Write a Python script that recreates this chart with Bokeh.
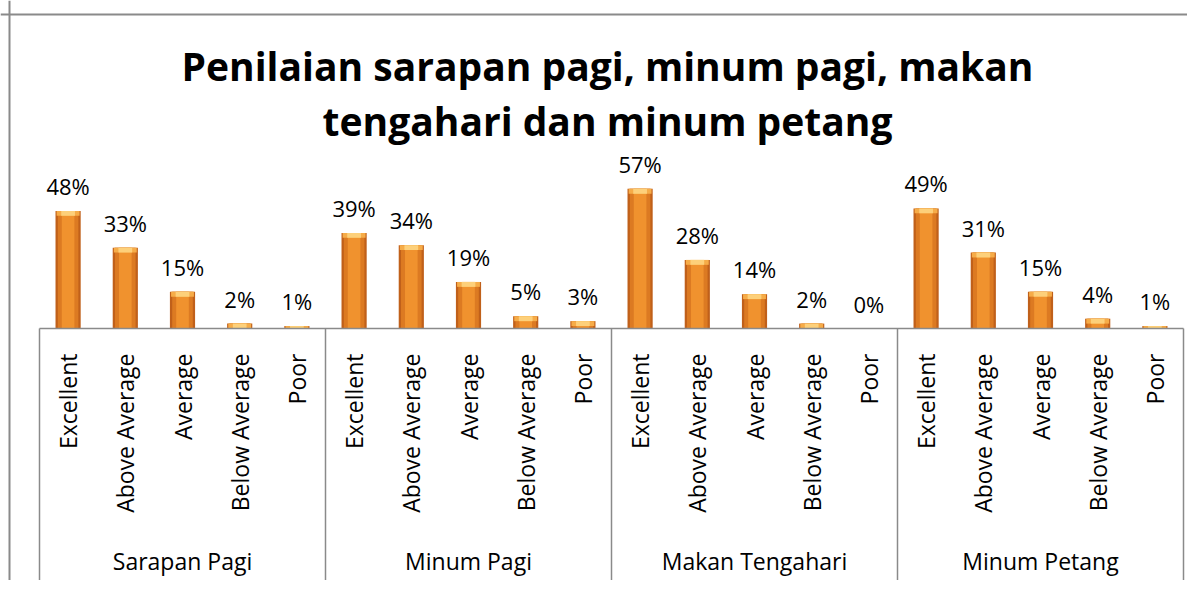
import numpy as np
from bokeh.plotting import figure
from bokeh.models import ColumnDataSource, Range1d, Span
from bokeh.core.properties import value
from bokeh.embed import file_html
from bokeh.resources import INLINE

# ---------------- data ----------------
title_lines = ["Penilaian sarapan pagi, minum pagi, makan", "tengahari dan minum petang"]
groups = ["Sarapan Pagi", "Minum Pagi", "Makan Tengahari", "Minum Petang"]
ratings = ["Excellent", "Above Average", "Average", "Below Average", "Poor"]
sarapan_pagi = [48, 33, 15, 2, 1]
minum_pagi = [39, 34, 19, 5, 3]
makan_tengahari = [57, 28, 14, 2, 0]
minum_petang = [49, 31, 15, 4, 1]

series = [sarapan_pagi, minum_pagi, makan_tengahari, minum_petang]

# ---------------- layout constants ----------------
W, H = 1187, 580
PX_X = 57.2          # pixels per category slot
PX_Y = 2.45          # pixels per percent
LEFT_PX = 39         # canvas x of first slot boundary
BASE_PX = 328        # canvas y (from top) of the baseline
FONT = "Open Sans"

n_cat = len(groups) * len(ratings)
x_start = -LEFT_PX / PX_X
x_end = (W - LEFT_PX) / PX_X
y_end = BASE_PX / PX_Y
y_start = -(H - BASE_PX) / PX_Y

xs, vals, cats, labels = [], [], [], []
for gi, g in enumerate(groups):
    for ci, r in enumerate(ratings):
        xs.append(gi * len(ratings) + ci + 0.5)
        v = series[gi][ci]
        vals.append(v)
        cats.append(r)
        labels.append(f"{v}%")
vals_a = np.array(vals, dtype=float)
src = ColumnDataSource(dict(
    x=xs, top=vals_a, zero=np.zeros(len(xs)), cat=cats, lab=labels,
    cap_bottom=np.maximum(vals_a - 2.0, 0.0),
))

p = figure(width=W, height=H, output_backend="svg", toolbar_location=None,
           x_axis_type=None, y_axis_type=None, min_border=0,
           x_range=Range1d(x_start, x_end), y_range=Range1d(y_start, y_end),
           outline_line_color=None, background_fill_color="white",
           border_fill_color="white")

# bars (layered to imitate the bevelled orange bars)
p.vbar(x="x", bottom="zero", top="top", width=0.44, source=src,
       fill_color="#c0601a", line_color=None)
p.vbar(x="x", bottom="zero", top="top", width=0.36, source=src,
       fill_color="#dc7a22", line_color=None)
p.vbar(x="x", bottom="zero", top="top", width=0.22, source=src,
       fill_color="#f0922e", line_color=None)
p.vbar(x="x", bottom="cap_bottom", top="top", width=0.40, source=src,
       fill_color="#f6ac48", line_color=None)
p.vbar(x="x", bottom="cap_bottom", top="top", width=0.24, source=src,
       fill_color="#fdd07a", line_color=None)

# value labels
p.text(x="x", y="top", text="lab", source=src, y_offset=-25,
       text_align="center", text_baseline="middle",
       text_font=value(FONT), text_font_size="22px", text_color="black")

# baseline axis line
p.segment(x0=[0], y0=[0], x1=[n_cat], y1=[0], line_color="#8a8a8a", line_width=1.5)

# group separators
bounds = [i * len(ratings) for i in range(len(groups) + 1)]
p.segment(x0=bounds, y0=[0] * len(bounds), x1=bounds, y1=[y_start] * len(bounds),
          line_color="#8a8a8a", line_width=1.5)

# category labels (vertical)
p.text(x="x", y="zero", text="cat", source=src, y_offset=25, angle=np.pi / 2,
       text_align="right", text_baseline="middle",
       text_font=value(FONT), text_font_size="23px", text_color="black")

# group labels
gx = [i * len(ratings) + len(ratings) / 2 for i in range(len(groups))]
p.text(x=gx, y=[0] * len(gx), text=groups, y_offset=232,
       text_align="center", text_baseline="middle",
       text_font=value(FONT), text_font_size="23px", text_color="black")

# title
p.text(x=[n_cat / 2], y=[0], text=[title_lines[0]], x_offset=-4, y_offset=-263,
       text_align="center", text_baseline="middle",
       text_font=value(FONT), text_font_style="bold", text_font_size="39px",
       text_color="black")
p.text(x=[n_cat / 2], y=[0], text=[title_lines[1]], x_offset=-4, y_offset=-208,
       text_align="center", text_baseline="middle",
       text_font=value(FONT), text_font_style="bold", text_font_size="39px",
       text_color="black")

# chart border (top and left edges visible)
p.add_layout(Span(location=(BASE_PX - 14) / PX_Y, dimension="width",
                  line_color="#8a8a8a", line_width=2))
p.add_layout(Span(location=x_start + 9 / PX_X, dimension="height",
                  line_color="#8a8a8a", line_width=2))

open("out.html", "w").write(file_html(p, INLINE))
